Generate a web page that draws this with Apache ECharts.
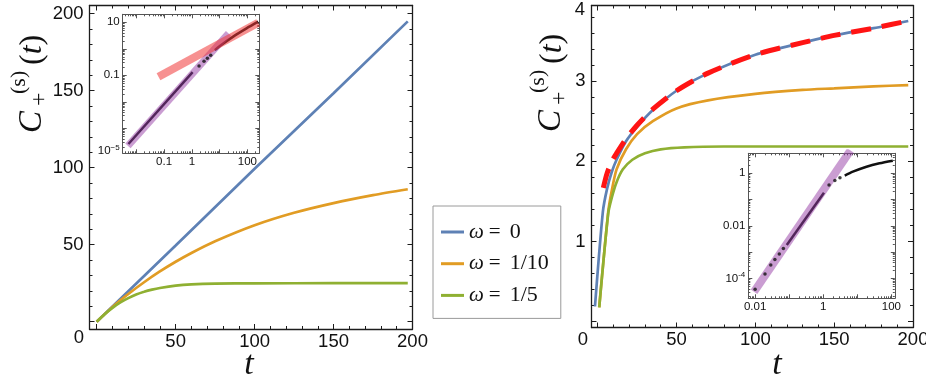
<!DOCTYPE html>
<html>
<head>
<meta charset="utf-8">
<title>C+(s)(t)</title>
<script src="https://cdn.jsdelivr.net/npm/echarts@6/dist/echarts.min.js"></script>
<style>html, body { margin: 0; padding: 0; background: #fff; }</style>
</head>
<body>
<div id="main" style="width: 926px;height:379px;"></div>
<script type="text/javascript">
// legend: omega values and their colours
var omegas = ['0', '1/10', '1/5'];
var colors = ['#5e81b5', '#e19c24', '#8fb032'];

// left panel, [t, C]
var leftW0 = [[0, 0], [50, 49.5], [100, 99.3], [150, 148.3], [197, 195]];
var leftW1 = [[0, 0], [10, 9.6], [20, 18], [30, 25.6], [40, 32.6], [50, 38.9], [60, 44.6], [75, 52.2],
  [100, 62.6], [125, 70.7], [150, 77], [175, 82.2], [197, 86]];
var leftW2 = [[0, 0], [5, 4.9], [10, 9], [15, 12.5], [20, 15.3], [25, 17.6], [30, 19.4], [35, 20.8],
  [40, 21.9], [50, 23.4], [60, 24.2], [75, 24.7], [100, 24.9], [150, 25], [197, 25]];

// right panel, [t, C]
var rightW0 = [[-1.7, 0.19], [3.3, 1.37], [6, 1.66], [9, 1.87], [12, 2.02], [18, 2.25], [25, 2.43],
  [35, 2.64], [50, 2.88], [70, 3.1], [100, 3.33], [130, 3.48], [150, 3.57], [175, 3.66], [197, 3.75]];
var rightW1 = [[1, 0.18], [6.7, 1.37], [9, 1.64], [12, 1.9], [18, 2.15], [25, 2.34], [35, 2.5],
  [50, 2.66], [70, 2.76], [100, 2.84], [130, 2.89], [150, 2.91], [175, 2.935], [197, 2.95]];
var rightW2 = [[1, 0.18], [6.7, 1.35], [9, 1.55], [12, 1.74], [16, 1.9], [22, 2.02], [30, 2.1],
  [40, 2.15], [55, 2.175], [80, 2.185], [197, 2.185]];
var rightFit = [[3.6, 1.67], [6, 1.85], [9, 2.0], [12, 2.1], [18, 2.28], [25, 2.45], [35, 2.65],
  [50, 2.88], [70, 3.1], [100, 3.33], [130, 3.48], [150, 3.57], [175, 3.66], [199, 3.76]];

// left inset (log-log), [t, C]
var insLBlack = [[0.0052, 0.000257], [1.07, 0.132]];
var insLDots = [[1.82, 0.224], [2.75, 0.339], [3.63, 0.437], [4.79, 0.575]];
var insLBlackLate = [[6.76, 0.89], [10.2, 1.28], [30.9, 2.88], [93.3, 5.89], [245, 10.5]];
var insLPurple = [[0.005, 0.000219], [20.9, 3.8]];
var insLRed = [[0.063, 0.089], [245, 9.55]];

// right inset (log-log), [t, C]
var insRDots = [[0.01, 0.000038], [0.0195, 0.000145], [0.0288, 0.000324], [0.038, 0.000525],
  [0.0513, 0.00085], [0.0676, 0.00138], [1.48, 0.355], [2.19, 0.525], [3.09, 0.676]];
var insRBlack = [[0.085, 0.00186], [1.05, 0.182]];
var insRBlackLate = [[4.27, 0.813], [7.41, 1.15], [18.6, 1.78], [44.7, 2.4], [110, 3.02]];
var insRPurple = [[0.0093, 0.000031], [6.3, 7.4]];

// tick labels
var mainXLabels = [50, 100, 150, 200];
var leftYLabels = [50, 100, 150, 200];
var rightYLabels = [1, 2, 3];
var insLXPos = [-1, 0, 2], insLXText = ['0.1', '1', '100'];
var insLYPos = [1, -1, -3.86], insLYText = ['10', '0.1', '{b|10}{s|\u22125}'];
var insRXPos = [-2, 0, 2], insRXText = ['0.01', '1', '100'];
var insRYPos = [0, -2, -4], insRYText = ['1', '0.01', '{b|10}{s|-4}'];

function steps(a, b, s) {
  var out = [];
  for (var v = a; v <= b + 1e-9; v += s) out.push(+v.toFixed(6));
  return out;
}
function logMinor(a, b) {
  var out = [];
  for (var n = a; n <= b; n++) for (var k = 2; k <= 9; k++) out.push(n + Math.log10(k));
  return out;
}
function logPts(arr) {
  return arr.map(function (p) { return [Math.log10(p[0]), Math.log10(p[1])]; });
}

var xAxes = [], yAxes = [];
function frame(list, grid, sides, o) {
  var idx = list.length;
  sides.forEach(function (side, k) {
    list.push({
      type: 'value', gridIndex: grid, position: side, min: o.min, max: o.max,
      axisLine: { show: true, onZero: false, lineStyle: { color: o.color, width: o.width } },
      axisTick: { show: true, inside: true, length: o.majorLen, customValues: o.major,
        lineStyle: { color: o.color, width: 1 } },
      axisLabel: k === 0 && o.label ? o.label : { show: false },
      splitLine: { show: false }
    });
    list.push({
      type: 'value', gridIndex: grid, position: side, min: o.min, max: o.max,
      axisLine: { show: false, onZero: false },
      axisTick: { show: true, inside: true, length: o.minorLen, customValues: o.minor,
        lineStyle: { color: o.color, width: 1 } },
      axisLabel: { show: false },
      splitLine: { show: false }
    });
  });
  return idx;
}
function labels(pos, texts, size, margin) {
  return {
    show: true, customValues: pos, margin: margin, color: '#111',
    fontFamily: 'Liberation Sans', fontSize: size,
    formatter: function (v) {
      var best = 0;
      for (var i = 1; i < pos.length; i++) if (Math.abs(pos[i] - v) < Math.abs(pos[best] - v)) best = i;
      return texts ? texts[best] : String(pos[best]);
    },
    rich: {
      b: { fontSize: size, lineHeight: 15, fontFamily: 'Liberation Sans', color: '#111' },
      s: { fontSize: 8, verticalAlign: 'top', lineHeight: 9, fontFamily: 'Liberation Sans', color: '#111' }
    }
  };
}

var frameCol = '#1c1c1c', insetCol = '#555';
// left main
var xL = frame(xAxes, 0, ['bottom', 'top'], { min: -4.56, max: 200, color: frameCol, width: 1.3,
  major: steps(0, 200, 50), minor: steps(10, 190, 10), majorLen: 5, minorLen: 3,
  label: labels(mainXLabels, null, 18.5, 3) });
var yL = frame(yAxes, 0, ['left', 'right'], { min: -4.74, max: 205.3, color: frameCol, width: 1.3,
  major: steps(0, 200, 50), minor: steps(10, 190, 10), majorLen: 5, minorLen: 3,
  label: labels(leftYLabels, null, 18.5, 6) });
// right main
var xR = frame(xAxes, 1, ['bottom', 'top'], { min: -3.9, max: 200, color: frameCol, width: 1.3,
  major: steps(0, 200, 50), minor: steps(10, 190, 10), majorLen: 5, minorLen: 3,
  label: labels(mainXLabels, null, 18.5, 3) });
var yR = frame(yAxes, 1, ['left', 'right'], { min: -0.072, max: 3.943, color: frameCol, width: 1.3,
  major: steps(0, 3, 1), minor: steps(0.2, 3.8, 0.2), majorLen: 5, minorLen: 3,
  label: labels(rightYLabels, null, 18.5, 6) });
// left inset
var xIL = frame(xAxes, 2, ['bottom', 'top'], { min: -2.49, max: 2.43, color: insetCol, width: 1,
  major: steps(-2, 2, 1), minor: logMinor(-3, 2), majorLen: 4, minorLen: 2,
  label: labels(insLXPos, insLXText, 11.5, 3) });
var yIL = frame(yAxes, 2, ['left', 'right'], { min: -3.94, max: 1.30, color: insetCol, width: 1,
  major: steps(-3, 1, 1), minor: logMinor(-4, 1), majorLen: 4, minorLen: 2,
  label: labels(insLYPos, insLYText, 11.5, 3) });
// right inset
var xIR = frame(xAxes, 3, ['bottom', 'top'], { min: -2.2, max: 2.1, color: insetCol, width: 1,
  major: steps(-2, 2, 1), minor: logMinor(-3, 2), majorLen: 4, minorLen: 2,
  label: labels(insRXPos, insRXText, 11.5, 3) });
var yIR = frame(yAxes, 3, ['left', 'right'], { min: -4.76, max: 0.76, color: insetCol, width: 1,
  major: steps(-4, 0, 1), minor: logMinor(-5, 0), majorLen: 4, minorLen: 2,
  label: labels(insRYPos, insRYText, 11.5, 3) });

function line(name, data, xi, yi, color, width, extra) {
  var s = {
    type: 'line', name: name, data: data, xAxisIndex: xi, yAxisIndex: yi,
    color: color, showSymbol: false, symbol: 'none', smooth: false,
    lineStyle: { color: color, width: width, cap: 'butt' }, emphasis: { disabled: true }, z: 3
  };
  for (var k in extra) s[k] = extra[k];
  return s;
}
function dots(data, xi, yi) {
  return { type: 'scatter', data: logPts(data), xAxisIndex: xi, yAxisIndex: yi,
    symbolSize: 3.5, color: '#111', itemStyle: { color: '#111' }, z: 3 };
}

var curve = { smooth: 0.25 };
var names = omegas.map(function (w) { return '\u03c9 = ' + w; });
var series = [
  line(names[0], leftW0, xL, yL, colors[0], 2.7),
  line(names[1], leftW1, xL, yL, colors[1], 2.7, curve),
  line(names[2], leftW2, xL, yL, colors[2], 2.7, curve),
  line(names[0], rightW0, xR, yR, colors[0], 2.7, curve),
  line(names[1], rightW1, xR, yR, colors[1], 2.7, curve),
  line(names[2], rightW2, xR, yR, colors[2], 2.7, curve),
  line('fit', rightFit, xR, yR, '#ff1414', 5, { smooth: 0.25,
    lineStyle: { color: '#ff1414', width: 5, type: [20, 11], cap: 'butt' } }),
  // left inset
  line('', logPts(insLBlack), xIL, yIL, '#111', 2.5),
  dots(insLDots, xIL, yIL),
  line('', logPts(insLBlackLate), xIL, yIL, '#111', 2.5, curve),
  line('', logPts(insLPurple), xIL, yIL, 'rgba(150,60,165,0.5)', 7),
  line('', logPts(insLRed), xIL, yIL, 'rgba(240,55,55,0.55)', 8),
  // right inset
  dots(insRDots, xIR, yIR),
  line('', logPts(insRBlack), xIR, yIR, '#111', 2.5),
  line('', logPts(insRBlackLate), xIR, yIR, '#111', 2.5, curve),
  line('', logPts(insRPurple), xIR, yIR, 'rgba(150,60,165,0.5)', 8)
];

var serif = '"Liberation Serif", "DejaVu Serif", serif';
function yTitle(x, y) {
  return {
    type: 'group', x: x, y: y, rotation: Math.PI / 2,
    children: [
      { type: 'text', x: 0, y: 0, style: { text: 'C', font: 'italic 33px ' + serif, fill: '#111', verticalAlign: 'middle' } },
      { type: 'text', x: 39, y: -13, style: { text: '(s)', font: '22px ' + serif, fill: '#111', verticalAlign: 'middle' } },
      { type: 'text', x: 27, y: 8, style: { text: '+', font: '24px ' + serif, fill: '#111', verticalAlign: 'middle' } },
      { type: 'text', x: 68, y: 1, style: {
        text: '{a|(}{b|t}{a|)}', fill: '#111', verticalAlign: 'middle',
        rich: { a: { font: '32px ' + serif, fill: '#111' }, b: { font: 'italic 32px ' + serif, fill: '#111' } } } }
    ]
  };
}
function plain(x, y, text, align) {
  return { type: 'text', x: x, y: y, style: { text: text, font: '18.5px "Liberation Sans"', fill: '#111',
    align: align || 'center', verticalAlign: 'middle' } };
}
function tName(x) {
  return { type: 'text', x: x, y: 365, style: { text: 't', font: 'italic 34px ' + serif, fill: '#111',
    align: 'center', verticalAlign: 'middle' } };
}

var myChart = echarts.init(document.getElementById('main'));
var option = {
  animation: false,
  backgroundColor: '#fff',
  grid: [
    { left: 89.5, top: 5.5, width: 323, height: 323.5, outerBoundsMode: 'none' },
    { left: 591.5, top: 5.5, width: 321.5, height: 322, outerBoundsMode: 'none' },
    { left: 122.7, top: 14.3, width: 136.6, height: 139, show: true, backgroundColor: '#fff', borderWidth: 0, outerBoundsMode: 'none' },
    { left: 748.3, top: 153.3, width: 146.5, height: 145, show: true, backgroundColor: '#fff', borderWidth: 0, outerBoundsMode: 'none' }
  ],
  legend: {
    data: names, orient: 'vertical', left: 433, top: 206,
    padding: [15, 12, 12, 8], itemGap: 9.7, itemWidth: 23, itemHeight: 3, icon: 'rect',
    borderColor: '#9a9a9a', borderWidth: 1, backgroundColor: '#fff', selectedMode: false,
    textStyle: { fontFamily: 'Liberation Serif', fontSize: 21, lineHeight: 22, color: '#111',
      rich: {
        w: { fontFamily: 'Liberation Serif', fontStyle: 'italic', fontSize: 21, lineHeight: 22, color: '#111' },
        e: { fontFamily: 'Liberation Serif', fontSize: 21, lineHeight: 22, color: '#111', padding: [0, 9, 0, 5] },
        v: { fontFamily: 'Liberation Serif', fontSize: 22, lineHeight: 22, color: '#111' }
      } },
    formatter: function (name) {
      return '{w|\u03c9}{e|=}{v|' + name.split(' = ')[1] + '}';
    }
  },
  xAxis: xAxes,
  yAxis: yAxes,
  series: series,
  graphic: [
    yTitle(32, 133),
    yTitle(551.5, 132),
    plain(79, 338, '0'),
    plain(583, 340, '0'),
    plain(585, 10, '4', 'right'),
    tName(249),
    tName(777)
  ]
};
myChart.setOption(option);
</script>
</body>
</html>
